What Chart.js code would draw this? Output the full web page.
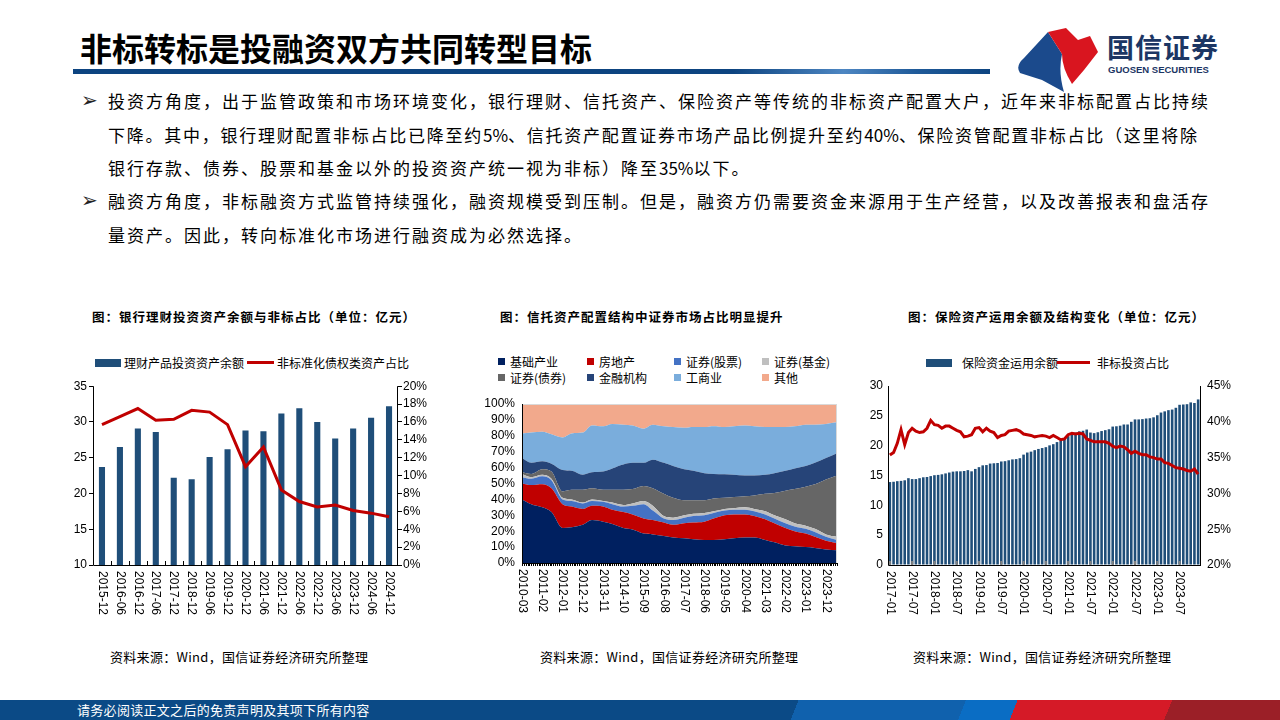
<!DOCTYPE html>
<html lang="zh">
<head>
<meta charset="UTF-8">
<title>非标转标是投融资双方共同转型目标</title>
<script src="https://cdn.jsdelivr.net/npm/chart.js"></script>
<style>
    body {
        margin: 0;
        width: 1280px;
        height: 720px;
        position: relative;
        overflow: hidden;
        background: #fff;
        font-family: 'Noto Sans CJK SC', sans-serif;
        color: #000;
    }
    .abs { position: absolute; white-space: nowrap; }
    #title { left: 80px; top: 27px; font-size: 32px; font-weight: bold; line-height: 40px; }
    #rule {
        left: 73px; top: 69px; width: 917px; height: 5px;
        background: linear-gradient(90deg, #0d4480 0%, #0d4480 72%, #4d86c2 84%, #1f5a99 92%, #0d4480 100%);
    }
    #brand { left: 1107px; top: 30px; font-size: 27px; font-weight: bold; color: #1c3664; letter-spacing: 1px; line-height: 34px; }
    #brand-en { left: 1108px; top: 64px; font-family: 'Liberation Sans', sans-serif; font-size: 9.5px; font-weight: bold; color: #1c3664; }
    .text { left: 108px; font-size: 17px; letter-spacing: 2px; line-height: 33.5px; }
    .tight { letter-spacing: 1.75px; }
    .num { letter-spacing: 0; }
    .mark { left: 81px; font-family: 'DejaVu Sans', sans-serif; font-size: 20px; line-height: 33.5px; color: #222; }
    .ctitle { top: 308px; font-size: 12.5px; font-weight: bold; letter-spacing: 1px; line-height: 18px; }
    .source { top: 648px; font-size: 13px; letter-spacing: 0.3px; line-height: 18px; }
    .leg { font-size: 12px; line-height: 16px; }
    .sq { position: absolute; width: 7px; height: 7px; }
    #footer {
        left: 0; top: 700px; width: 1280px; height: 20px;
        background: linear-gradient(112deg, #0b4a86 0%, #0b4a86 62%, #1061ad 62%, #1061ad 75%, #0a6dc4 75%, #0a6dc4 79%, #d51a27 79%, #d51a27 91%, #9b1f27 91%);
    }
    #footer-text { left: 77px; top: 700px; color: #fff; font-size: 13px; letter-spacing: 0.3px; line-height: 20px; }
    canvas { position: absolute; }
</style>
</head>
<body>
    <div id="title" class="abs">非标转标是投融资双方共同转型目标</div>
    <div id="rule" class="abs"></div>
    <svg class="abs" style="left:1010px;top:26px" width="100" height="68" viewBox="0 0 100 68">
        <path d="M38 6 L52 28 Q48 46 54 66 L32 54 L10 47 Q5 40 14 32 Z" fill="#1b4a8c"/>
        <path d="M38 6 L56 2 L68 14 L80 10 L88 26 L74 44 L62 58 Q52 42 52 28 Z" fill="#d9151f"/>
    </svg>
    <div id="brand" class="abs">国信证券</div>
    <div id="brand-en" class="abs">GUOSEN SECURITIES</div>

    <div class="abs mark" style="top:84px">➢</div>
    <div class="abs text" style="top:84px">投资方角度，出于监管政策和市场环境变化，银行理财、信托资产、保险资产等传统的非标资产配置大户，近年来非标配置占比持续<br><span class="tight">下降。其中，银行理财配置非标占比已降至约<span class="num">5%</span>、信托资产配置证券市场产品比例提升至约<span class="num">40%</span>、保险资管配置非标占比（这里将除</span><br>银行存款、债券、股票和基金以外的投资资产统一视为非标）降至<span class="num">35%</span>以下。</div>
    <div class="abs mark" style="top:184px">➢</div>
    <div class="abs text" style="top:184px">融资方角度，非标融资方式监管持续强化，融资规模受到压制。但是，融资方仍需要资金来源用于生产经营，以及改善报表和盘活存<br>量资产。因此，转向标准化市场进行融资成为必然选择。</div>

    <div class="abs ctitle" style="left:92px">图：银行理财投资资产余额与非标占比（单位：亿元）</div>
    <div class="abs ctitle" style="left:500px">图：信托资产配置结构中证券市场占比明显提升</div>
    <div class="abs ctitle" style="left:908px">图：保险资产运用余额及结构变化（单位：亿元）</div>

    <!-- chart 1 legend -->
    <div class="abs" style="left:95px;top:359px;width:26px;height:8px;background:#1f4e79"></div>
    <div class="abs leg" style="left:124px;top:355px">理财产品投资资产余额</div>
    <div class="abs" style="left:247px;top:361px;width:27px;height:3px;background:#c00000"></div>
    <div class="abs leg" style="left:277px;top:355px">非标准化债权类资产占比</div>

    <!-- chart 2 legend -->
    <div id="legend2"></div>

    <!-- chart 3 legend -->
    <div class="abs" style="left:926px;top:359px;width:26px;height:8px;background:#1f4e79"></div>
    <div class="abs leg" style="left:962px;top:355px">保险资金运用余额</div>
    <div class="abs" style="left:1057px;top:361px;width:33px;height:3px;background:#c00000"></div>
    <div class="abs leg" style="left:1097px;top:355px">非标投资占比</div>

    <canvas id="c1" width="410" height="253" style="left:40px;top:377px"></canvas>
    <canvas id="c2" width="380" height="235" style="left:470px;top:395px"></canvas>
    <canvas id="c3" width="410" height="253" style="left:840px;top:377px"></canvas>

    <div class="abs source" style="left:110px">资料来源：Wind，国信证券经济研究所整理</div>
    <div class="abs source" style="left:540px">资料来源：Wind，国信证券经济研究所整理</div>
    <div class="abs source" style="left:913px">资料来源：Wind，国信证券经济研究所整理</div>

    <div id="footer" class="abs"></div>
    <div id="footer-text" class="abs">请务必阅读正文之后的免责声明及其项下所有内容</div>

<script>
// ---- chart 1: bank wealth management ----
var wmLabels = ['2015-12', '2016-06', '2016-12', '2017-06', '2017-12', '2018-12', '2019-06', '2019-12', '2020-12',
    '2021-06', '2021-12', '2022-06', '2022-12', '2023-06', '2023-12', '2024-06', '2024-12'];
var wmAssets = [23.7, 26.5, 29.1, 28.6, 22.2, 22.0, 25.1, 26.2, 28.8, 28.7, 31.2, 31.9, 30.0, 27.7, 29.1, 30.6, 32.2];
var wmNonStd = [15.7, 16.6, 17.5, 16.2, 16.3, 17.3, 17.1, 15.7, 11.0, 13.2, 8.4, 7.1, 6.5, 6.7, 6.1, 5.8, 5.4];

// ---- chart 2: trust asset allocation (months since 2010-03) ----
var trustMonths = [0, 5, 11, 16, 22, 27, 33, 38, 44, 49, 55, 60, 66, 71, 77, 82, 88, 93, 99, 104, 110, 115, 121, 126, 132, 137, 143, 148, 154, 159, 165, 171];
var trustTicks = [0, 11, 22, 33, 44, 55, 66, 77, 88, 99, 110, 121, 132, 143, 154, 165];
var infra      = [40, 37, 35, 32, 22, 22.5, 24, 27, 26, 24.5, 22, 21, 18.5, 18, 17, 16, 15.5, 15, 14.5, 14.5, 15, 15.5, 16, 16, 14.5, 13, 11, 10.5, 10, 9.5, 8.5, 8];
var realEstate = [10, 12, 14.5, 15, 15, 13, 10, 9, 9.5, 9, 10, 9.5, 9.5, 9, 8.5, 8, 9.5, 10.5, 11.5, 13.5, 15, 15, 14.5, 13.5, 13, 12, 11, 9.5, 8.5, 7, 5.5, 4.5];
var stocks     = [4, 4, 5, 5, 3, 3.5, 3.5, 3, 3, 3.5, 3.5, 5.5, 9, 6, 2.5, 3, 3.5, 4, 4, 3.5, 3, 3, 3, 3, 3, 3, 3, 3, 3, 3, 2.5, 2];
var funds      = [2, 1, 1, 1, 1, 1, 0.5, 1, 0.5, 1, 1, 1.5, 2, 3, 1.5, 1.5, 1.5, 1.5, 1.5, 1, 1, 1, 1.5, 1.5, 2, 2, 2.5, 2, 2, 2, 1.5, 2];
var bonds      = [1, 2, 3.5, 4.5, 4, 6, 8, 7, 7, 8, 9.5, 9, 9.5, 11, 14, 12.5, 9.5, 8.5, 8, 8, 7, 7, 7, 8.5, 11, 14, 18, 21.5, 24.5, 28, 34.5, 38.5];
var finance    = [9, 7, 5, 5, 13.5, 12, 9.5, 10, 11.5, 13.5, 16, 16.5, 14.5, 18, 19.5, 20, 19.5, 18.5, 17, 15.5, 14.8, 14, 13, 12.5, 12, 12.5, 12.5, 13, 13, 13.5, 13.5, 14];
var business   = [15.5, 19, 18.5, 18.5, 20.5, 23.5, 26.5, 29.5, 28.5, 28, 25, 23.5, 21.5, 22, 23, 24.5, 26, 27.5, 29, 30, 29.7, 30.5, 31.5, 31, 30, 29, 27.5, 26.5, 26, 24, 21.5, 19.5];
var others     = [18.5, 18, 17.5, 19, 21, 18.5, 18, 13.5, 14, 12.5, 13, 13.5, 15.5, 13, 14, 14.5, 15, 14.5, 14.5, 14, 14.5, 14, 13.5, 14, 14.5, 14.5, 14.5, 14, 13, 13, 12.5, 11.5];

// ---- chart 3: insurance funds, monthly 2017-01 .. 2023-12 ----
var insLabels = [];
for (var yr = 2017; yr <= 2023; yr++) {
    for (var mo = 1; mo <= 12; mo++) insLabels.push(yr + '-' + (mo < 10 ? '0' : '') + mo);
}
var insBalance = [
    13.9, 13.95, 14.05, 14.1, 14.2, 14.55, 14.4, 14.4, 14.55, 14.7, 14.75, 14.9,
    15.05, 15.1, 15.2, 15.35, 15.5, 15.65, 15.7, 15.7, 15.75, 15.9, 15.7, 16.1,
    16.4, 16.7, 16.75, 17.0, 17.05, 17.1, 17.35, 17.4, 17.55, 17.7, 17.75, 17.9,
    18.5, 18.85, 19.0, 19.25, 19.45, 19.6, 19.75, 20.05, 20.25, 20.6, 20.85, 21.2,
    21.6, 21.95, 22.2, 22.4, 22.5, 22.7, 22.2, 22.1, 22.25, 22.45, 22.6, 22.75,
    23.2, 23.25, 23.35, 23.55, 23.55, 24.0, 24.4, 24.4, 24.45, 24.55, 24.6, 24.75,
    25.1, 25.55, 25.75, 25.95, 26.05, 26.35, 26.85, 26.9, 26.95, 27.25, 27.15, 27.75
];
var insNonStd = [
    35.35, 35.7, 37.0, 38.9, 36.8, 38.5, 39.1, 38.7, 38.5, 38.6, 39.1, 40.2,
    39.6, 39.5, 39.1, 39.4, 39.4, 39.1, 38.8, 38.6, 37.9, 38.0, 38.2, 39.1,
    39.2, 38.6, 39.1, 38.7, 38.5, 37.8, 38.1, 38.2, 38.7, 38.8, 38.9, 38.7,
    38.3, 38.2, 38.1, 37.9, 38.0, 38.1, 38.0, 37.8, 38.1, 37.8, 37.5, 37.6,
    38.2, 38.4, 38.3, 38.4, 38.3, 37.6, 37.4, 37.2, 37.2, 37.2, 37.2, 37.0,
    36.6, 36.4, 36.6, 36.5, 36.1, 35.6, 35.9, 35.6, 35.4, 35.4, 35.1, 35.0,
    34.8, 34.8, 34.3, 34.2, 33.9, 33.6, 33.5, 33.4, 33.2, 33.1, 33.4, 32.7
];

var NAVY = '#1f4e79';
var RED = '#c00000';

Chart.defaults.font.family = "'Liberation Sans', Arial, sans-serif";
Chart.defaults.font.size = 12;
Chart.defaults.color = '#000';
Chart.defaults.animation = false;

// axis lines, small marks on the x axis and x labels turned clockwise
var decor = {
    id: 'decor',
    afterDatasetsDraw: function(chart, args, o) {
        var ctx = chart.ctx, a = chart.chartArea, x = chart.scales.x;
        ctx.save();
        if (o.frame) {
            ctx.strokeStyle = '#d9d9d9';
            ctx.lineWidth = 1;
            ctx.strokeRect(a.left + 0.5, a.top + 0.5, a.right - a.left - 1, a.bottom - a.top);
        }
        if (o.marks) {
            ctx.strokeStyle = o.marks.color;
            ctx.lineWidth = o.marks.width;
            ctx.beginPath();
            o.marks.at(chart).forEach(function(px) {
                ctx.moveTo(px, a.bottom);
                ctx.lineTo(px, a.bottom + o.marks.len);
            });
            ctx.stroke();
        }
        ctx.strokeStyle = '#000';
        ctx.lineWidth = 1;
        ctx.beginPath();
        ctx.moveTo(a.left + 0.5, a.top);
        ctx.lineTo(a.left + 0.5, a.bottom + 0.5);
        ctx.lineTo(a.right, a.bottom + 0.5);
        if (o.rightAxis) {
            ctx.moveTo(a.right - 0.5, a.top);
            ctx.lineTo(a.right - 0.5, a.bottom + 0.5);
        }
        ctx.stroke();

        ctx.font = o.font;
        ctx.fillStyle = '#000';
        ctx.textAlign = 'left';
        ctx.textBaseline = 'middle';
        x.ticks.forEach(function(t, i) {
            if (!t.label) return;
            ctx.save();
            ctx.translate(x.getPixelForTick(i), a.bottom + o.gap);
            ctx.rotate(Math.PI / 2);
            ctx.fillText(t.label, 0, 0);
            ctx.restore();
        });
        ctx.restore();
    }
};

function fixWidth(w) { return function(s) { s.width = w; }; }
function fixHeight(h) { return function(s) { s.height = h; }; }
// tick marks only (no grid lines); a transparent colour just keeps the gap
function marks(len, color) {
    return { display: true, drawOnChartArea: false, drawTicks: true, tickLength: len, color: color };
}

// chart 1
new Chart(document.getElementById('c1'), {
    type: 'bar',
    data: {
        labels: wmLabels,
        datasets: [{
            type: 'line',
            data: wmNonStd,
            yAxisID: 'y1',
            borderColor: RED,
            borderWidth: 3,
            pointRadius: 0,
            tension: 0,
            order: 0
        }, {
            data: wmAssets,
            backgroundColor: NAVY,
            barPercentage: 0.34,
            categoryPercentage: 1,
            order: 1
        }]
    },
    options: {
        responsive: false,
        layout: { padding: { top: 9, left: 0, right: 0, bottom: 0 } },
        plugins: {
            legend: { display: false },
            tooltip: { enabled: false },
            decor: {
                font: "12px 'Liberation Sans', Arial, sans-serif",
                gap: 6,
                rightAxis: true,
                marks: {
                    color: '#000', width: 1, len: -4,
                    at: function(chart) {
                        var a = chart.chartArea, n = wmLabels.length, out = [];
                        for (var k = 1; k < n; k++) out.push(Math.round(a.left + k * (a.right - a.left) / n) + 0.5);
                        return out;
                    }
                }
            }
        },
        scales: {
            x: {
                grid: { display: false },
                border: { display: false },
                ticks: { display: false },
                afterFit: fixHeight(65)
            },
            y: {
                position: 'left',
                min: 10, max: 35,
                ticks: { stepSize: 5, padding: 2, autoSkip: false },
                grid: marks(4, '#000'),
                border: { display: false },
                afterFit: fixWidth(53)
            },
            y1: {
                position: 'right',
                min: 0, max: 20,
                ticks: { stepSize: 2, padding: 1, autoSkip: false, callback: function(v) { return v + '%'; } },
                grid: marks(4, '#000'),
                border: { display: false },
                afterFit: fixWidth(52)
            }
        }
    },
    plugins: [decor]
});

// chart 2 legend
var trustNames = ['基础产业', '房地产', '证券(股票)', '证券(基金)', '证券(债券)', '金融机构', '工商业', '其他'];
var trustColors = ['#002060', '#c00000', '#4472c4', '#bfbfbf', '#666666', '#264478', '#7aaddc', '#f2a98c'];
var legendCols = [498, 587, 674, 762];
var legendRows = [354, 370];
var legend2 = document.getElementById('legend2');
trustNames.forEach(function(name, i) {
    var lx = legendCols[i % 4], ly = legendRows[Math.floor(i / 4)];
    var sq = document.createElement('div');
    sq.className = 'sq';
    sq.style.left = lx + 'px';
    sq.style.top = (ly + 4) + 'px';
    sq.style.background = trustColors[i];
    legend2.appendChild(sq);
    var tx = document.createElement('div');
    tx.className = 'abs leg';
    tx.style.left = (lx + 12) + 'px';
    tx.style.top = ly + 'px';
    tx.textContent = name;
    legend2.appendChild(tx);
});

function monthLabel(m) {
    var t = 2 + m;
    var yy = 2010 + Math.floor(t / 12), mm = t % 12 + 1;
    return yy + '-' + (mm < 10 ? '0' : '') + mm;
}

var trustSeries = [infra, realEstate, stocks, funds, bonds, finance, business, others];

new Chart(document.getElementById('c2'), {
    type: 'line',
    data: {
        datasets: trustSeries.map(function(vals, i) {
            return {
                label: trustNames[i],
                data: trustMonths.map(function(m, j) { return { x: m, y: vals[j] }; }),
                backgroundColor: trustColors[i],
                borderWidth: 0,
                pointRadius: 0,
                fill: i === 0 ? 'origin' : '-1',
                cubicInterpolationMode: 'monotone'
            };
        })
    },
    options: {
        responsive: false,
        layout: { padding: { top: 9, left: 0, right: 13, bottom: 0 } },
        plugins: {
            legend: { display: false },
            tooltip: { enabled: false },
            filler: { propagate: false },
            decor: {
                font: "12px 'Liberation Sans', Arial, sans-serif",
                gap: 6,
                frame: true,
                marks: {
                    color: '#000', width: 1, len: 3,
                    at: function(chart) {
                        var x = chart.scales.x, out = [];
                        for (var m = 0; m <= 171; m++) out.push(Math.round(x.getPixelForValue(m)) + 0.5);
                        return out;
                    }
                }
            }
        },
        scales: {
            x: {
                type: 'linear',
                min: 0, max: 171,
                grid: { display: false },
                border: { display: false },
                afterBuildTicks: function(s) { s.ticks = trustTicks.map(function(v) { return { value: v }; }); },
                ticks: { display: false, callback: function(v) { return monthLabel(v); } },
                afterFit: fixHeight(67)
            },
            y: {
                stacked: true,
                min: 0, max: 100,
                ticks: { stepSize: 10, padding: 1, autoSkip: false, callback: function(v) { return v + '%'; } },
                grid: marks(6, 'rgba(0,0,0,0)'),
                border: { display: false },
                afterFit: fixWidth(52)
            }
        }
    },
    plugins: [decor]
});

// chart 3
new Chart(document.getElementById('c3'), {
    type: 'bar',
    data: {
        labels: insLabels,
        datasets: [{
            type: 'line',
            data: insNonStd,
            yAxisID: 'y1',
            borderColor: RED,
            borderWidth: 3,
            pointRadius: 0,
            tension: 0,
            order: 0
        }, {
            data: insBalance,
            yAxisID: 'y',
            backgroundColor: NAVY,
            barPercentage: 0.7,
            categoryPercentage: 1,
            order: 1
        }]
    },
    options: {
        responsive: false,
        layout: { padding: { top: 9, left: 0, right: 0, bottom: 0 } },
        plugins: {
            legend: { display: false },
            tooltip: { enabled: false },
            decor: {
                font: "12px 'Liberation Sans', Arial, sans-serif",
                gap: 6,
                rightAxis: false,
                marks: {
                    color: '#808080', width: 2, len: -4,
                    at: function(chart) {
                        var x = chart.scales.x, out = [];
                        insLabels.forEach(function(l, i) { if (i % 6 === 0) out.push(x.getPixelForValue(i)); });
                        return out;
                    }
                }
            }
        },
        scales: {
            x: {
                grid: { display: false },
                border: { display: false },
                ticks: { display: false, callback: function(v, i) { return i % 6 === 0 ? insLabels[i] : ''; } },
                afterFit: fixHeight(65)
            },
            y: {
                position: 'left',
                min: 0, max: 30,
                ticks: { stepSize: 5, padding: 1, autoSkip: false },
                grid: marks(4, 'rgba(0,0,0,0)'),
                border: { display: false },
                afterFit: fixWidth(48)
            },
            y1: {
                position: 'right',
                min: 20, max: 45,
                ticks: { stepSize: 5, padding: 1, autoSkip: false, callback: function(v) { return v + '%'; } },
                grid: marks(6, 'rgba(0,0,0,0)'),
                border: { display: true, color: '#000', width: 1 },
                afterFit: fixWidth(50)
            }
        }
    },
    plugins: [decor]
});
</script>
</body>
</html>
